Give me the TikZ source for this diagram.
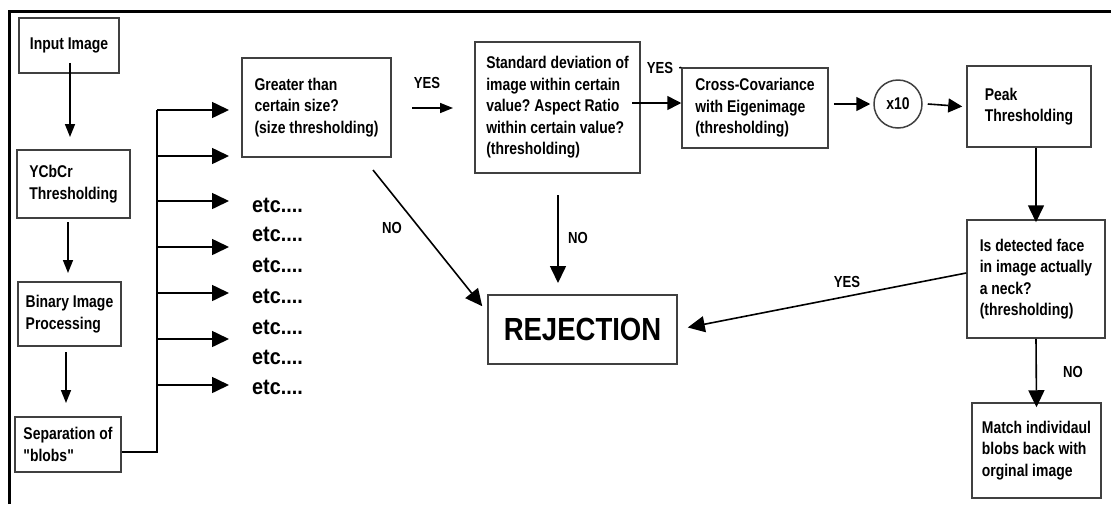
\documentclass[tikz,border=0pt]{standalone}
\usepackage{fontspec}
\usetikzlibrary{arrows.meta}
\newfontfamily\condfont{Liberation Sans}[FakeStretch=0.82]
\newfontfamily\etcfont{Liberation Sans}[FakeStretch=0.9]
\newfontfamily\rejfont{Liberation Sans}[FakeStretch=0.86]
\frenchspacing
\begin{document}
\begin{tikzpicture}[x=1pt,y=-1pt,
  box/.style={draw=black!75, line width=1.5pt, inner sep=0pt, align=left,
    font=\condfont\bfseries\fontsize{17}{21.5}\selectfont},
  lbl/.style={inner sep=0pt, font=\condfont\bfseries\fontsize{16}{18}\selectfont},
  etcnode/.style={inner sep=0pt, anchor=west, font=\etcfont\bfseries\fontsize{22}{24}\selectfont},
  conn/.style={line width=1.6pt, black},
  bigarr/.style={conn, -{Triangle[length=17pt,width=16pt]}},
  midarr/.style={conn, -{Triangle[length=14pt,width=14pt]}},
  smallarr/.style={conn, -{Triangle[length=13pt,width=10pt]}}
]
\useasboundingbox (0,0) rectangle (1111,504);
% outer frame (top and left)
\draw[line width=3pt] (9,504) -- (9,11) -- (1111,11);

% boxes
\node[box, minimum width=100pt, minimum height=55pt] (input) at (69,45.5) {Input Image};
\node[box, minimum width=113pt, minimum height=68pt] (ycbcr) at (73.5,184) {YCbCr\\Thresholding};
\node[box, minimum width=103pt, minimum height=64pt] (binary) at (69.5,314) {Binary Image\\Processing};
\node[box, minimum width=106pt, minimum height=55pt] (sep) at (68,444.5) {Separation of\\"blobs"};
\node[box, minimum width=149pt, minimum height=99pt] (greater) at (316.5,107.5) {Greater than\\certain size?\\(size thresholding)};
\node[box, minimum width=165pt, minimum height=131pt] (std) at (557.5,107.5) {Standard deviation of\\image within certain\\value? Aspect Ratio\\within certain value?\\(thresholding)};
\node[box, minimum width=146pt, minimum height=80pt] (cross) at (755,108) {Cross-Covariance\\with Eigenimage\\(thresholding)};
\node[box, circle, minimum size=48pt] (x10) at (898,104) {x10};
\node[box, minimum width=124pt, minimum height=81pt] (peak) at (1029,106.5) {Peak\\Thresholding};
\node[box, minimum width=138pt, minimum height=118pt] (isneck) at (1036,279) {Is detected face\\in image actually\\a neck?\\(thresholding)};
\node[box, minimum width=129pt, minimum height=95pt] (match) at (1036.5,450.5) {Match individaul\\blobs back with\\orginal image};
\node[box, minimum width=189pt, minimum height=69pt, font=\rejfont\bfseries\fontsize{32}{34}\selectfont] (rej) at (582.5,329.5) {REJECTION};

% etc texts
\node[etcnode] (etc1) at (252,205) {etc....};
\node[etcnode] (etc2) at (252,234) {etc....};
\node[etcnode] (etc3) at (252,265) {etc....};
\node[etcnode] (etc4) at (252,296) {etc....};
\node[etcnode] (etc5) at (252,327) {etc....};
\node[etcnode] (etc6) at (252,357) {etc....};
\node[etcnode] (etc7) at (252,387) {etc....};

% labels
\node[lbl] (yes1) at (427,83) {YES};
\node[lbl] (no1) at (392,228) {NO};
\node[lbl] (yes2) at (660,68) {YES};
\node[lbl] (no2) at (578,238) {NO};
\node[lbl] (yes3) at (847,282) {YES};
\node[lbl] (no3) at (1073,372) {NO};

% left column
\draw[smallarr] ([yshift=11pt]input.south -| 70,0) -- (70,137);
\draw[smallarr] (68,222) -- (68,273);
\draw[smallarr] (66,352) -- (66,403);

% branching bus
\coordinate (busb) at (157,452);
\coordinate (bust) at (157,110);
\draw[conn] (sep.east |- busb) -- (busb) -- (bust);
\foreach \y/\n in {110/1,156/2,201/3,247/4,293/5,339/6,385/7}{
  \coordinate (bs\n) at (157,\y);
  \coordinate (be\n) at (229,\y);
  \draw[bigarr] (bs\n) -- (be\n);
}

% greater -> std (YES)
\coordinate (y1s) at (412,108);
\coordinate (y1e) at (453,108);
\draw[smallarr] (y1s) -- (y1e);

% greater -> rejection (NO)
\coordinate (n1s) at (373,170);
\draw[bigarr] (n1s) -- ([shift={(-5pt,-12pt)}]rej.north west);

% std -> rejection (NO)
\coordinate (n2s) at (558,195);
\draw[bigarr] (n2s) -- (558,283);

% std -> cross (YES)
\draw[conn] (yes2.east |- 0,68) ++(6pt,0) -- (cross.north west);
\draw[midarr] (632,103) -- (cross.west |- 0,103);

% cross -> x10 -> peak
\draw[midarr] ([xshift=5pt]cross.east |- x10.west) -- ([xshift=-3pt]x10.west);
\draw[midarr] ([xshift=5pt]x10.east) -- ([xshift=-4pt]peak.west);

% peak -> isneck
\draw[bigarr] (isneck.north |- peak.south) -- ([yshift=-3pt]isneck.north);

% isneck -> rejection (YES)
\draw[bigarr] ([yshift=6pt]isneck.west) -- ([shift={(10pt,2pt)}]rej.east);

% isneck -> match (NO)
\draw[bigarr] (isneck.south) -- ([yshift=-5pt]match.north);
\end{tikzpicture}
\end{document}
